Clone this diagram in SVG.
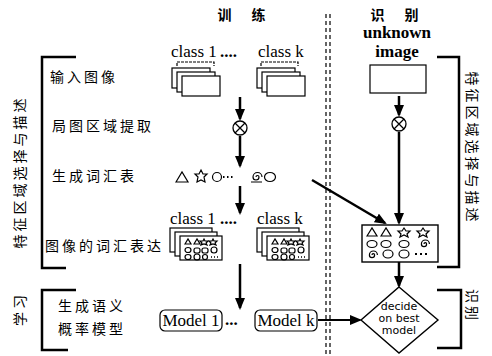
<svg xmlns="http://www.w3.org/2000/svg" width="492" height="356" viewBox="0 0 492 356">
<style>
.t{font-family:"Noto Sans CJK SC","Noto Sans CJK JP",sans-serif;font-size:14px;fill:#000;letter-spacing:3px}
.e{font-family:"Liberation Serif","DejaVu Serif",serif;font-size:17px;fill:#000}
.s{font-family:"DejaVu Sans",sans-serif;font-size:11px;fill:#000}
.ln{stroke:#000;stroke-width:2.5;fill:none}
.th{stroke:#000;stroke-width:1.2;fill:none}
.card{stroke:#000;stroke-width:1.2;fill:#fff}
.ic{stroke:#000;stroke-width:1.2;fill:none}
</style>
<defs>
<marker id="ahb" markerWidth="12" markerHeight="10" refX="10" refY="5" orient="auto" markerUnits="userSpaceOnUse">
<path d="M0,0 L12,5 L0,10 Z" fill="#000"/>
</marker>
<g id="cross">
<circle cx="0" cy="0" r="7" fill="#fff" stroke="#000" stroke-width="1.3"/>
<path d="M-5,-5 L5,5 M5,-5 L-5,5" stroke="#000" stroke-width="1.3"/>
</g>
<g id="stack">
<rect x="0" y="0" width="38" height="20" class="card"/>
<rect x="5" y="4" width="38" height="20" class="card"/>
<rect x="10" y="8" width="38" height="20" class="card"/>
</g>
<g id="gridicons" class="ic">
<path d="M2,5 L5,0 L8,5 Z"/><path d="M11,5 L14,0 L17,5 Z"/>
<path d="M21,0 L22,2 L25,2 L23,4 L24,6 L21,5 L18,6 L19,4 L17,2 L20,2 Z"/>
<path d="M30,0 L31,2 L34,2 L32,4 L33,6 L30,5 L27,6 L28,4 L26,2 L29,2 Z"/>
<ellipse cx="5" cy="11" rx="3" ry="2.5"/><rect x="11" y="9" width="6" height="5" rx="2"/><rect x="19" y="9" width="6" height="5" rx="2"/><circle cx="31" cy="11" r="3"/>
<ellipse cx="5" cy="18" rx="3" ry="2.5"/><circle cx="14" cy="18" r="3"/><circle cx="22" cy="18" r="2.5"/>
<path d="M28,18 h1 M31,18 h1 M34,18 h1" stroke-width="1.6"/>
</g>
<g id="gstack">
<rect x="0" y="0" width="42" height="24" class="card"/>
<rect x="5" y="4" width="42" height="24" class="card"/>
<rect x="10" y="8" width="42" height="24" class="card"/>
<use href="#gridicons" x="13" y="11"/>
</g>
</defs>

<!-- headers -->
<text class="t" x="243" y="20" text-anchor="middle" font-weight="bold" letter-spacing="0">训　练</text>
<text class="t" x="396" y="20" text-anchor="middle" font-weight="bold" letter-spacing="0">识　别</text>
<text class="e" x="397" y="38" text-anchor="middle" font-weight="bold" font-size="15">unknown</text>
<text class="e" x="397" y="57" text-anchor="middle" font-weight="bold" font-size="15">image</text>

<!-- divider -->
<g id="divider">
<line x1="326" y1="14" x2="326" y2="356" stroke="#000" stroke-width="1.2" stroke-dasharray="4,3"/>
<line x1="330" y1="14" x2="330" y2="356" stroke="#000" stroke-width="1.2" stroke-dasharray="4,3"/>
</g>

<!-- brackets -->
<g id="brackets">
<path class="ln" d="M76,57 H42 V268 H66"/>
<path class="ln" d="M76,290 H42 V350 H68"/>
<path class="ln" d="M437,57 H459 V267 H437"/>
<path class="ln" d="M437,290 H461 V348 H437"/>
</g>

<!-- side labels -->
<text class="t" transform="translate(25,172) rotate(-90)" text-anchor="middle">特征区域选择与描述</text>
<text class="t" transform="translate(25,309) rotate(-90)" text-anchor="middle">学习</text>
<text class="t" transform="translate(467,148) rotate(90)" text-anchor="middle">特征区域选择与描述</text>
<text class="t" transform="translate(467,306) rotate(90)" text-anchor="middle">识别</text>

<!-- step labels -->
<g id="steps">
<text class="t" x="50" y="82">输入图像</text>
<text class="t" x="52" y="131">局图区域提取</text>
<text class="t" x="52" y="181">生成词汇表</text>
<text class="t" x="45" y="251">图像的词汇表达</text>
<text class="t" x="58" y="311">生成语义</text>
<text class="t" x="58" y="334">概率模型</text>
</g>

<!-- input images -->
<g id="input-images">
<text class="e" x="171" y="57">class 1</text>
<text class="e" x="220" y="57" font-weight="bold">....</text>
<text class="e" x="258" y="57">class k</text>
<path class="th" d="M177,66 V62 H214 V66" stroke-dasharray="3,1"/>
<path class="th" d="M261,66 V62 H298 V66" stroke-dasharray="3,1"/>
<use href="#stack" x="172" y="68"/>
<use href="#stack" x="257" y="68"/>
</g>

<!-- extraction -->
<use id="extract-train" href="#cross" x="240" y="128"/>
<use id="extract-test" href="#cross" x="399" y="124"/>

<!-- vocabulary -->
<g id="vocab" class="ic" stroke-width="1.5">
<path d="M176,182 L182,172 L188,182 Z"/>
<path d="M201,170 L203,174 L207,174 L204,177 L205,182 L201,180 L197,182 L198,177 L195,174 L199,174 Z"/>
<circle cx="217" cy="177" r="4.5"/>
<path d="M223,177 h1.5 M227,177 h1.5 M231,177 h1.5" stroke-width="2.2"/>
<path d="M256,177 a1.5,1.5 0 0 1 3,0 a3,3 0 0 1 -6,0 a4.5,4.5 0 0 1 9,0 M251,182 h11"/>
<ellipse cx="270" cy="177" rx="5.5" ry="4.5"/>
</g>

<!-- image vocabulary representation -->
<g id="image-repr">
<text class="e" x="170" y="224">class 1</text>
<text class="e" x="220" y="224" font-weight="bold">....</text>
<text class="e" x="257" y="224">class k</text>
<use href="#gstack" x="170" y="228"/>
<use href="#gstack" x="257" y="228"/>
</g>

<!-- models -->
<g id="model1">
<rect x="160" y="310" width="62" height="21" rx="5" class="th"/>
<text class="e" x="191" y="326" text-anchor="middle">Model 1</text>
</g>
<text class="e" x="225" y="325" font-weight="bold">...</text>
<g id="modelk">
<rect x="255" y="310" width="62" height="21" rx="5" class="th"/>
<text class="e" x="286" y="326" text-anchor="middle">Model k</text>
</g>

<!-- unknown image -->
<g id="unknown-image">
<rect x="370" y="65" width="56" height="28" class="th"/>
</g>

<!-- test grid -->
<g id="test-grid">
<rect x="362" y="225" width="76" height="37" fill="#fff" stroke="#000" stroke-width="1.4"/>
<g class="ic" stroke-width="1.3">
<path d="M367,236 L372,228 L377,236 Z"/><path d="M381,236 L386,228 L391,236 Z"/>
<path d="M404,228 L406,231 L410,231 L407,234 L408,237 L404,235 L400,237 L401,234 L398,231 L402,231 Z"/>
<path d="M423,228 L425,231 L429,231 L426,234 L427,237 L423,235 L419,237 L420,234 L417,231 L421,231 Z"/>
<ellipse cx="372" cy="244" rx="5" ry="3.5"/><ellipse cx="386" cy="244" rx="5" ry="3.5"/><ellipse cx="404" cy="244" rx="5" ry="3.5"/>
<path d="M424,244 a1.3,1.3 0 0 1 2.6,0 a2.6,2.6 0 0 1 -5.2,0 a4,4 0 0 1 8,0"/>
<path d="M372,255 a1.3,1.3 0 0 1 2.6,0 a2.6,2.6 0 0 1 -5.2,0 a4,4 0 0 1 8,0"/>
<ellipse cx="388" cy="254" rx="5" ry="4"/><ellipse cx="404" cy="254" rx="5" ry="4"/>
<path d="M415,254 h2 M420,254 h2 M425,254 h2" stroke-width="2"/>
</g>
</g>

<!-- decide -->
<g id="decide">
<path d="M399,287 L438,320 L399,353 L361,320 Z" fill="#fff" stroke="#000" stroke-width="1.4"/>
<text class="s" x="399" y="310" text-anchor="middle">decide</text>
<text class="s" x="399" y="322" text-anchor="middle">on best</text>
<text class="s" x="399" y="334" text-anchor="middle">model</text>
</g>

<!-- connectors -->
<g id="connectors" stroke="#000" stroke-width="2.5" fill="none">
<line x1="240" y1="97" x2="240" y2="119" marker-end="url(#ahb)"/>
<line x1="240" y1="136" x2="240" y2="166" marker-end="url(#ahb)"/>
<line x1="240" y1="186" x2="240" y2="213" marker-end="url(#ahb)"/>
<line x1="240" y1="264" x2="240" y2="308" marker-end="url(#ahb)"/>
<line x1="399" y1="96" x2="399" y2="115" marker-end="url(#ahb)"/>
<line x1="399" y1="132" x2="399" y2="223" marker-end="url(#ahb)"/>
<line x1="312" y1="180" x2="385" y2="223" marker-end="url(#ahb)"/>
<line x1="399" y1="262" x2="399" y2="286" marker-end="url(#ahb)"/>
<line x1="318" y1="320" x2="360" y2="320" stroke-width="1.8" marker-end="url(#ahb)"/>
</g>
</svg>
